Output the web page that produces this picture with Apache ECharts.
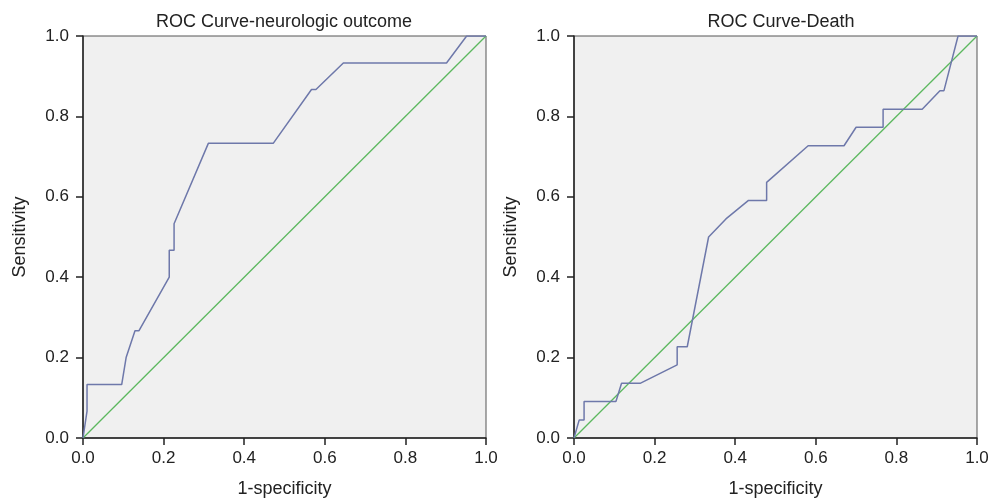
<!DOCTYPE html>
<html>
<head>
<meta charset="utf-8">
<script src="https://cdn.jsdelivr.net/npm/echarts@6/dist/echarts.min.js"></script>
<style>html,body{margin:0;padding:0;background:#fff;}#c{width:989px;height:498px;}</style>
</head>
<body>
<div id="c"></div>
<script>
const titles = ['ROC Curve-neurologic outcome', 'ROC Curve-Death'];
const xAxisName = '1-specificity';
const yAxisName = 'Sensitivity';
const tickValues = [0.0, 0.2, 0.4, 0.6, 0.8, 1.0];

const leftX = [0, 0.01, 0.01, 0.096, 0.107, 0.129, 0.139, 0.214, 0.214, 0.226, 0.226, 0.311, 0.472, 0.567, 0.578, 0.646, 0.902, 0.952, 1.0];
const leftY = [0, 0.067, 0.133, 0.133, 0.2, 0.267, 0.267, 0.4, 0.467, 0.467, 0.533, 0.733, 0.733, 0.867, 0.867, 0.933, 0.933, 1.0, 1.0];

const rightX = [0, 0.013, 0.025, 0.025, 0.104, 0.118, 0.164, 0.256, 0.256, 0.281, 0.334, 0.377, 0.433, 0.478, 0.478, 0.581, 0.670, 0.700, 0.767, 0.767, 0.864, 0.908, 0.918, 0.953, 1.0];
const rightY = [0, 0.045, 0.045, 0.091, 0.091, 0.136, 0.136, 0.182, 0.227, 0.227, 0.5, 0.545, 0.591, 0.591, 0.636, 0.727, 0.727, 0.773, 0.773, 0.818, 0.818, 0.864, 0.864, 1.0, 1.0];

const refX = [0, 1];
const refY = [0, 1];

const curveColor = '#6e78aa';
const refColor = '#5cb85f';
const font = 'Liberation Sans, Arial, sans-serif';

function pairs(xs, ys) { return xs.map((x, i) => [x, ys[i]]); }

const grids = [
  {left: 83, top: 36, width: 403, height: 402},
  {left: 574, top: 36, width: 403, height: 402}
];

function xAx(i) {
  return {
    gridIndex: i, type: 'value', min: 0, max: 1, interval: 0.2,
    name: xAxisName, nameLocation: 'middle', nameGap: 42,
    nameTextStyle: {fontSize: 18, color: '#222', fontFamily: font},
    axisLine: {show: true, onZero: false, lineStyle: {color: '#222', width: 1.5}},
    axisTick: {show: true, length: 7, lineStyle: {color: '#222', width: 1.5}},
    axisLabel: {fontSize: 17, color: '#222', fontFamily: font, margin: 12, formatter: v => v.toFixed(1)},
    splitLine: {show: false}
  };
}
function yAx(i) {
  return {
    gridIndex: i, type: 'value', min: 0, max: 1, interval: 0.2,
    name: yAxisName, nameLocation: 'middle', nameGap: 54,
    nameTextStyle: {fontSize: 18, color: '#222', fontFamily: font},
    axisLine: {show: true, onZero: false, lineStyle: {color: '#222', width: 1.5}},
    axisTick: {show: true, length: 7, lineStyle: {color: '#222', width: 1.5}},
    axisLabel: {fontSize: 17, color: '#222', fontFamily: font, margin: 14, formatter: v => v.toFixed(1)},
    splitLine: {show: false}
  };
}

const option = {
  animation: false,
  backgroundColor: '#fff',
  title: [
    {text: titles[0], left: 279, top: 8, textAlign: 'center', textStyle: {fontSize: 18, fontWeight: 'normal', color: '#222', fontFamily: font}},
    {text: titles[1], left: 776, top: 8, textAlign: 'center', textStyle: {fontSize: 18, fontWeight: 'normal', color: '#222', fontFamily: font}}
  ],
  grid: grids.map(g => Object.assign({show: true, containLabel: false, outerBoundsMode: 'none', backgroundColor: '#f0f0f0', borderColor: '#555', borderWidth: 1}, g)),
  xAxis: [xAx(0), xAx(1)],
  yAxis: [yAx(0), yAx(1)],
  series: [
    {type: 'line', xAxisIndex: 0, yAxisIndex: 0, data: pairs(refX, refY), symbol: 'none', lineStyle: {color: refColor, width: 1.3}},
    {type: 'line', xAxisIndex: 0, yAxisIndex: 0, data: pairs(leftX, leftY), symbol: 'none', lineStyle: {color: curveColor, width: 1.5}},
    {type: 'line', xAxisIndex: 1, yAxisIndex: 1, data: pairs(refX, refY), symbol: 'none', lineStyle: {color: refColor, width: 1.3}},
    {type: 'line', xAxisIndex: 1, yAxisIndex: 1, data: pairs(rightX, rightY), symbol: 'none', lineStyle: {color: curveColor, width: 1.5}}
  ]
};
echarts.init(document.getElementById('c')).setOption(option);
</script>
</body>
</html>
